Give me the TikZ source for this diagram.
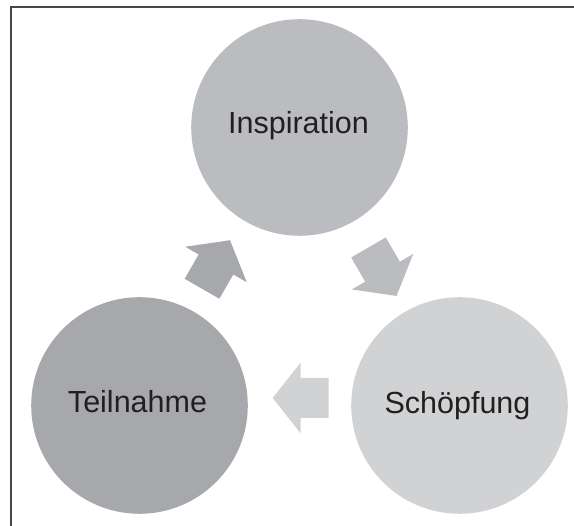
\documentclass[tikz,border=0pt]{standalone}
\usepackage{fontspec}
\setmainfont{Liberation Sans}
\definecolor{cTop}{RGB}{187,188,191}
\definecolor{cLeft}{RGB}{167,168,171}
\definecolor{cRight}{RGB}{209,210,212}
\definecolor{cText}{RGB}{35,31,32}
\definecolor{cFrame}{RGB}{70,70,70}
\tikzset{
  bubble/.style={circle, minimum size=216.6pt, inner sep=0pt, draw=none},
  lbl/.style={anchor=base, inner sep=0pt, text=cText, font=\fontsize{30.5}{36}\selectfont},
  blockarrow/.pic={
    \path[fill=\pgfkeysvalueof{/tikz/arrowfill}]
      (-28,-20) -- (0,-20) -- (0,-35.5) -- (28,0) -- (0,35.5) -- (0,20) -- (-28,20) -- cycle;
  },
  arrowfill/.initial=gray,
}
\begin{document}
\begin{tikzpicture}[x=1pt,y=1pt]
\useasboundingbox (0,0) rectangle (574,526);
% frame (top and left edges)
\coordinate (fbot) at (10.5,0);
\coordinate (fcorner) at (10.5,518.5);
\coordinate (fright) at (574,518.5);
\draw[line width=2pt, cFrame, line join=miter] (fbot) -- (fcorner) -- (fright);
% circles
\node[bubble, fill=cTop] (insp) at (299.5,398.5) {};
\node[bubble, fill=cLeft] (teil) at (139.5,120.5) {};
\node[bubble, fill=cRight] (schoe) at (459.5,120.5) {};
% labels
\node[lbl] (tinsp) at (298.5,392) {Inspiration};
\node[lbl] (tteil) at (137.5,113.3) {Teilnahme};
\node[lbl] (tschoe) at (457.5,112.7) {Schöpfung};
% block arrows
\pic[rotate=60, arrowfill=cLeft] (a1) at (216,261.5) {blockarrow};
\pic[rotate=-60, arrowfill=cTop] (a2) at (382.5,254.3) {blockarrow};
\pic[rotate=180, arrowfill=cRight] (a3) at (300.7,128) {blockarrow};
\end{tikzpicture}
\end{document}
